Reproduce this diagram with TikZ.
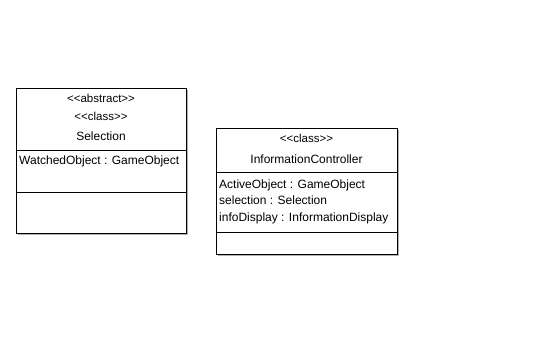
\documentclass[tikz,border=0pt]{standalone}
\usepackage{fontspec}
\setmainfont{Liberation Sans}
% keep the doubled angle brackets from merging into guillemets
\newcommand{\stlt}{<\kern0pt<\kern0pt}
\newcommand{\stgt}{>\kern0pt>}
\begin{document}
\begin{tikzpicture}[x=1pt,y=-1pt,
  classbox/.style={draw=black,line width=0.8pt,fill=white},
  shadowbox/.style={fill=black!30,draw=none},
  stereo/.style={font=\fontsize{11.5}{13}\selectfont,inner sep=0pt,anchor=base},
  cname/.style={font=\fontsize{12}{14}\selectfont,inner sep=0pt,anchor=base},
  attr/.style={font=\fontsize{12}{14}\selectfont,inner sep=0pt,anchor=base west}]
\useasboundingbox (0,0) rectangle (557,341);
% Selection class
\fill[shadowbox] (18,90) rectangle (188,235);
\draw[classbox] (16,88) rectangle (186,233);
\draw[line width=0.8pt] (16,150) -- (186,150);
\draw[line width=0.8pt] (16,192) -- (186,192);
\node[stereo] (selA) at (101,102) {\stlt abstract\stgt};
\node[stereo] (selC) at (101,120) {\stlt class\stgt};
\node[cname] (selN) at (101,140) {Selection};
\node[attr] (selAt) at (19,164) {WatchedObject : GameObject};
% InformationController class
\fill[shadowbox] (218,130) rectangle (399,256);
\draw[classbox] (216,128) rectangle (397,254);
\draw[line width=0.8pt] (216,172) -- (397,172);
\draw[line width=0.8pt] (216,232) -- (397,232);
\node[stereo] (icC) at (306.5,142) {\stlt class\stgt};
\node[cname] (icN) at (306.5,163) {InformationController};
\node[attr] (icA1) at (219,188) {ActiveObject : GameObject};
\node[attr] (icA2) at (219,204.5) {selection : Selection};
\node[attr] (icA3) at (219,221) {infoDisplay : InformationDisplay};
\end{tikzpicture}
\end{document}
